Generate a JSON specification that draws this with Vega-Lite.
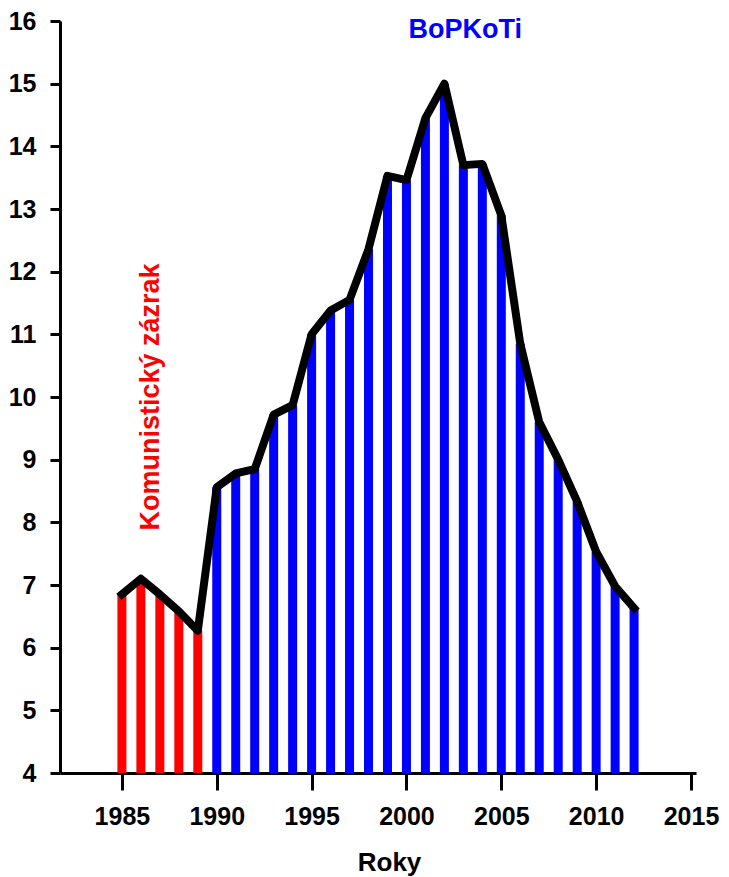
{
  "$schema": "https://vega.github.io/schema/vega-lite/v6.json",
  "width": 636,
  "height": 752,
  "autosize": {"type": "none"},
  "padding": {"left": 60, "top": 21, "right": 33, "bottom": 104},
  "background": "white",
  "config": {
    "view": {"stroke": null},
    "font": "Liberation Sans"
  },
  "datasets": {
    "series": [
      {"year": 1985, "value": 6.85, "period": "kom"},
      {"year": 1986, "value": 7.1, "period": "kom"},
      {"year": 1987, "value": 6.85, "period": "kom"},
      {"year": 1988, "value": 6.58, "period": "kom"},
      {"year": 1989, "value": 6.27, "period": "kom"},
      {"year": 1990, "value": 8.56, "period": "bop"},
      {"year": 1991, "value": 8.78, "period": "bop"},
      {"year": 1992, "value": 8.85, "period": "bop"},
      {"year": 1993, "value": 9.72, "period": "bop"},
      {"year": 1994, "value": 9.87, "period": "bop"},
      {"year": 1995, "value": 11.0, "period": "bop"},
      {"year": 1996, "value": 11.38, "period": "bop"},
      {"year": 1997, "value": 11.55, "period": "bop"},
      {"year": 1998, "value": 12.36, "period": "bop"},
      {"year": 1999, "value": 13.53, "period": "bop"},
      {"year": 2000, "value": 13.46, "period": "bop"},
      {"year": 2001, "value": 14.45, "period": "bop"},
      {"year": 2002, "value": 15.0, "period": "bop"},
      {"year": 2003, "value": 13.7, "period": "bop"},
      {"year": 2004, "value": 13.72, "period": "bop"},
      {"year": 2005, "value": 12.9, "period": "bop"},
      {"year": 2006, "value": 10.85, "period": "bop"},
      {"year": 2007, "value": 9.6, "period": "bop"},
      {"year": 2008, "value": 9.0, "period": "bop"},
      {"year": 2009, "value": 8.33, "period": "bop"},
      {"year": 2010, "value": 7.53, "period": "bop"},
      {"year": 2011, "value": 6.98, "period": "bop"},
      {"year": 2012, "value": 6.63, "period": "bop"}
    ],
    "labels": [
      {"year": 1986.55, "value": 10.0, "text": "Komunistický zázrak", "period": "kom", "angle": 270},
      {"year": 2003.1, "value": 15.85, "text": "BoPKoTi", "period": "bop", "angle": 0}
    ]
  },
  "layer": [
    {
      "data": {"name": "series"},
      "mark": {"type": "bar", "width": 9},
      "encoding": {
        "x": {
          "field": "year",
          "type": "quantitative",
          "scale": {"domain": [1982, 2015], "nice": false, "zero": false},
          "axis": {
            "values": [1985, 1990, 1995, 2000, 2005, 2010, 2015],
            "format": "d",
            "title": "Roky",
            "titleFontSize": 26,
            "titleFontWeight": "bold",
            "titleColor": "black",
            "titlePadding": 20,
            "titleX": 329,
            "labelFontSize": 25,
            "labelFontWeight": "bold",
            "labelColor": "black",
            "labelPadding": 14,
            "labelFlush": false,
            "domainColor": "black",
            "domainWidth": 3,
            "tickColor": "black",
            "tickWidth": 3,
            "tickSize": 17,
            "grid": false
          }
        },
        "y": {
          "field": "value",
          "type": "quantitative",
          "scale": {"domain": [4, 16], "nice": false, "zero": false},
          "axis": {
            "values": [4, 5, 6, 7, 8, 9, 10, 11, 12, 13, 14, 15, 16],
            "format": "d",
            "title": null,
            "labelFontSize": 25,
            "labelFontWeight": "bold",
            "labelColor": "black",
            "labelPadding": 14,
            "labelFlush": false,
            "domainColor": "black",
            "domainWidth": 3,
            "tickColor": "black",
            "tickWidth": 3,
            "tickSize": 10,
            "grid": false
          }
        },
        "y2": {"datum": 4},
        "color": {
          "field": "period",
          "type": "nominal",
          "scale": {"domain": ["kom", "bop"], "range": ["#ff0000", "#0000ff"]},
          "legend": null
        }
      }
    },
    {
      "data": {"name": "series"},
      "mark": {"type": "line", "color": "black", "strokeWidth": 8, "strokeJoin": "round", "strokeCap": "square"},
      "encoding": {
        "x": {"field": "year", "type": "quantitative"},
        "y": {"field": "value", "type": "quantitative"}
      }
    },
    {
      "data": {"name": "labels"},
      "mark": {"type": "text", "fontSize": 27, "fontWeight": "bold", "align": "center", "baseline": "middle"},
      "encoding": {
        "x": {"field": "year", "type": "quantitative"},
        "y": {"field": "value", "type": "quantitative"},
        "text": {"field": "text"},
        "angle": {"field": "angle", "type": "quantitative", "scale": null},
        "color": {"field": "period", "type": "nominal", "legend": null}
      }
    }
  ]
}
